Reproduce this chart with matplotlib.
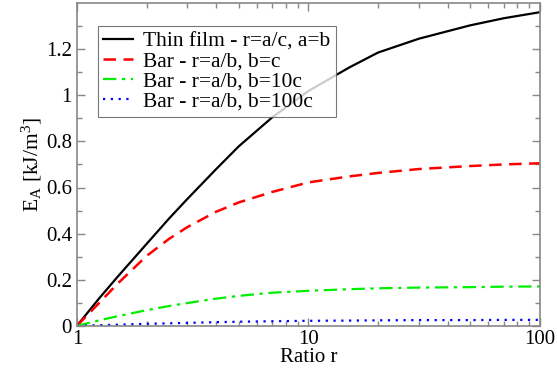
import numpy as np
import matplotlib
matplotlib.use('Agg')
import matplotlib.pyplot as plt
from matplotlib.ticker import FixedLocator, FuncFormatter, LogLocator, NullFormatter

plt.rcParams['font.family'] = ['Liberation Serif', 'DejaVu Serif']
plt.rcParams['mathtext.fontset'] = 'custom'
plt.rcParams['mathtext.rm'] = 'Liberation Serif'
plt.rcParams['mathtext.it'] = 'Liberation Serif:italic'

# ratio r and energies (kJ/m^3)
r = [1, 1.25, 1.5, 2, 2.5, 3, 4, 5, 7, 10, 15, 20, 30, 50, 70, 100]
thin_film = [0, 0.12, 0.213, 0.355, 0.465, 0.55, 0.68, 0.778, 0.905, 1.018, 1.12, 1.185, 1.245, 1.303, 1.334, 1.36]
bar_c = [0, 0.1, 0.183, 0.303, 0.377, 0.428, 0.495, 0.535, 0.581, 0.622, 0.648, 0.663, 0.68, 0.693, 0.70, 0.705]
bar_10c = [0, 0.024, 0.042, 0.068, 0.086, 0.099, 0.118, 0.13, 0.144, 0.152, 0.159, 0.163, 0.166, 0.168, 0.17, 0.171]
bar_100c = [0, 0.003, 0.005, 0.009, 0.011, 0.013, 0.016, 0.018, 0.02, 0.022, 0.023, 0.024, 0.025, 0.025, 0.026, 0.026]
labels = ['Thin film - r=a/c, a=b', 'Bar - r=a/b, b=c', 'Bar - r=a/b, b=10c', 'Bar - r=a/b, b=100c']
y_ticks = [0, 0.2, 0.4, 0.6, 0.8, 1.0, 1.2]

fig = plt.figure(figsize=(5.57, 3.75), dpi=100)
ax = fig.add_axes([0.138, 0.131, 0.831, 0.861])

ax.plot(r, thin_film, color='black', lw=1.6, label=labels[0])
ax.plot(r, bar_c, color='#ff0000', lw=1.8, dashes=(5, 3), label=labels[1])
ax.plot(r, bar_10c, color='#00ee00', lw=1.6, dashes=(6, 2.5, 1.5, 2.5), label=labels[2])
ax.plot(r, bar_100c, color='#0000ff', lw=1.6, dashes=(1, 2.5), label=labels[3])

ax.set_xscale('log')
ax.set_xlim(1, 100)
ax.set_ylim(0, 1.4)
ax.xaxis.set_major_locator(FixedLocator([1, 10, 100]))
ax.xaxis.set_major_formatter(FuncFormatter(lambda v, p: '%g' % v))
ax.xaxis.set_minor_locator(LogLocator(base=10, subs=np.arange(2, 10)))
ax.xaxis.set_minor_formatter(NullFormatter())
ax.yaxis.set_major_locator(FixedLocator(y_ticks))
ax.yaxis.set_minor_locator(FixedLocator(np.arange(0.1, 1.4, 0.2)))
ax.yaxis.set_major_formatter(FuncFormatter(lambda v, p: '%g' % round(v, 1)))

for s in ax.spines.values():
    s.set_color('#888888')
    s.set_linewidth(1.2)
ax.tick_params(which='both', direction='in', top=True, right=True, color='#888888', labelsize=15)
ax.tick_params(axis='y', pad=3.5)
ax.tick_params(axis='x', pad=3)
ax.tick_params(which='major', length=6, width=1)
ax.tick_params(which='minor', length=3.5, width=1)

ax.set_xlabel('Ratio r', fontsize=15, labelpad=-1)
ax.set_ylabel(r'E$_\mathrm{A}$ [kJ/m$^3$]', fontsize=15.5, labelpad=1)

leg = ax.legend(loc='upper left', bbox_to_anchor=(0.045, 0.929), fontsize=15.5, frameon=True, fancybox=False,
                edgecolor='#555555', handlelength=1.4, handletextpad=0.45, labelspacing=0.0, borderpad=0.25,
                borderaxespad=0)
leg.get_frame().set_linewidth(0.8)

fig.savefig('out.png', dpi=100)
